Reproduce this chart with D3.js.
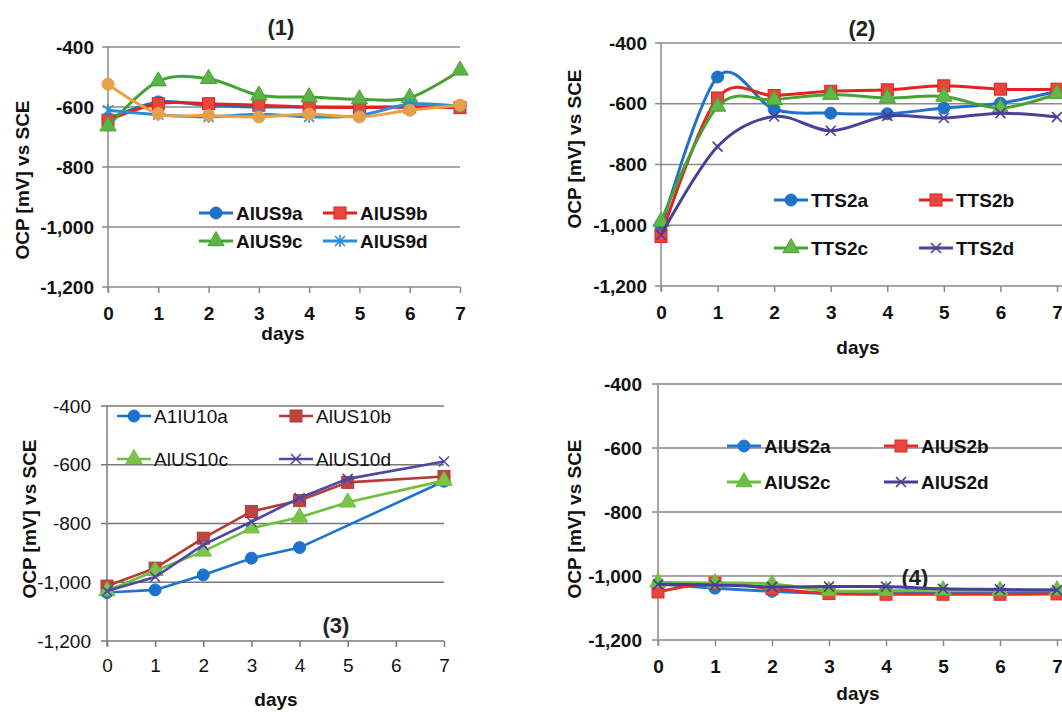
<!DOCTYPE html>
<html>
<head>
<meta charset="utf-8">
<title>OCP vs SCE</title>
<script src="https://d3js.org/d3.v7.min.js"></script>
<style>
  body { margin: 0; background: #fff; }
  text { font-family: "Liberation Sans", Arial, sans-serif; }
</style>
</head>
<body>
<script>
// ---- data ----
var days = [0, 1, 2, 3, 4, 5, 6, 7];
var dayLabels = ["0", "1", "2", "3", "4", "5", "6", "7"];
var yTicks = [-400, -600, -800, -1000, -1200];
var yTickLabels = ["-400", "-600", "-800", "-1,000", "-1,200"];

// panel (1)
var alus9a = [-640, -583, -595, -600, -600, -600, -600, -597];
var alus9b = [-644, -589, -589, -594, -600, -602, -600, -602];
var alus9c = [-664, -514, -506, -561, -567, -574, -569, -478];
var alus9d = [-611, -626, -633, -624, -633, -628, -591, -598];
var alus9e = [-524, -622, -628, -633, -624, -633, -611, -594]; // orange, no legend entry

// panel (2)
var tts2a = [-1013, -512, -618, -631, -633, -614, -598, -559];
var tts2b = [-1037, -581, -573, -559, -554, -541, -552, -552];
var tts2c = [-988, -609, -587, -570, -581, -576, -614, -567];
var tts2d = [-1032, -741, -642, -689, -640, -647, -631, -644];

// panel (3)
var a1iu10a = [-1035, -1026, -975, -918, -882, null, null, -656];
var alus10b = [-1013, -952, -850, -759, -722, -660, null, -640];
var alus10c = [-1030, -961, -895, -816, -779, -728, null, -654];
var alus10d = [-1030, -982, -873, -794, -713, -648, null, -589];

// panel (4)
var alus2a = [-1025, -1038, -1048, -1055, -1055, -1053, -1052, -1052];
var alus2b = [-1050, -1022, -1040, -1055, -1057, -1057, -1057, -1056];
var alus2c = [-1020, -1022, -1025, -1046, -1046, -1044, -1045, -1044];
var alus2d = [-1026, -1028, -1034, -1033, -1033, -1040, -1042, -1044];

var svg = d3.select("body").append("svg").attr("width", 1062).attr("height", 712);

// marker shapes
function marker(sel, shape, color, fill, size) {
    var s = size || 6;
    if (shape === "circle") {
        sel.append("circle").attr("r", s).attr("fill", fill).attr("stroke", color).attr("stroke-width", 1);
    } else if (shape === "square") {
        sel.append("rect").attr("x", -s).attr("y", -s).attr("width", 2 * s).attr("height", 2 * s)
            .attr("fill", fill).attr("stroke", color).attr("stroke-width", 1);
    } else if (shape === "triangle") {
        sel.append("path").attr("d", d3.symbol().type(d3.symbolTriangle).size(s * s * 3.2)())
            .attr("fill", fill).attr("stroke", color).attr("stroke-width", 1);
    } else if (shape === "x") {
        sel.append("path").attr("d", "M-5,-5L5,5M-5,5L5,-5").attr("stroke", color).attr("stroke-width", 1.6).attr("fill", "none");
    } else if (shape === "star") {
        sel.append("path").attr("d", "M-5,-5L5,5M-5,5L5,-5M0,-6L0,6").attr("stroke", color).attr("stroke-width", 1.6).attr("fill", "none");
    }
}

function drawPanel(p) {
    var x = d3.scaleLinear().domain([0, 7]).range([p.left, p.right]);
    var y = d3.scaleLinear().domain([-1200, -400]).range([p.bottom, p.top]);
    var g = svg.append("g");

    // horizontal grid
    g.selectAll("line.grid").data(yTicks).enter().append("line")
        .attr("x1", p.left - 6).attr("x2", p.gridRight)
        .attr("y1", function(d) { return y(d); }).attr("y2", function(d) { return y(d); })
        .attr("stroke", p.axisColor).attr("stroke-width", 1.5);

    // left axis line
    g.append("line").attr("x1", p.left).attr("x2", p.left).attr("y1", p.top).attr("y2", p.bottom + 5)
        .attr("stroke", p.axisColor).attr("stroke-width", 1.5);

    // y tick labels
    var ya = d3.axisLeft(y).tickValues(yTicks).tickSize(0).tickPadding(p.left - p.yLabelEnd)
        .tickFormat(function(d, i) { return yTickLabels[i]; });
    var yg = g.append("g").attr("transform", "translate(" + p.left + ",0)").call(ya);
    yg.select(".domain").remove();
    yg.selectAll("text").attr("font-size", 19).attr("font-weight", p.tickWeight).attr("fill", "#111")
        .attr("font-family", "Liberation Sans, Arial, sans-serif");

    // x axis
    var xa = d3.axisBottom(x).tickValues(days).tickSize(6).tickSizeOuter(0).tickPadding(p.xPad)
        .tickFormat(function(d, i) { return dayLabels[i]; });
    var xg = g.append("g").attr("transform", "translate(0," + p.bottom + ")").call(xa);
    xg.select(".domain").remove();
    xg.selectAll(".tick line").attr("stroke", p.axisColor).attr("stroke-width", 1.5);
    xg.selectAll("text").attr("font-size", 19).attr("font-weight", p.tickWeight).attr("fill", "#111")
        .attr("font-family", "Liberation Sans, Arial, sans-serif");

    // axis titles
    g.append("text").attr("x", p.daysX).attr("y", p.daysY).attr("text-anchor", "middle")
        .attr("font-size", 19).attr("font-weight", "bold").attr("fill", "#111").text("days");
    g.append("text").attr("transform", "translate(" + p.ylabX + "," + p.ylabY + ") rotate(-90)")
        .attr("text-anchor", "middle").attr("dominant-baseline", "central")
        .attr("font-size", 19).attr("font-weight", "bold").attr("fill", "#111").text("OCP [mV] vs SCE");

    // panel tag
    g.append("text").attr("x", p.tagX).attr("y", p.tagY).attr("text-anchor", "middle")
        .attr("dominant-baseline", "central").attr("font-size", 22).attr("font-weight", "bold")
        .attr("fill", "#222").text(p.tag);

    // series
    var line = d3.line()
        .x(function(d) { return x(d.day); })
        .y(function(d) { return y(d.v); })
        .curve(p.curve);

    p.series.forEach(function(s) {
        var pts = days.map(function(d, i) { return { day: d, v: s.values[i] }; })
            .filter(function(d) { return d.v !== null; });
        g.append("path").datum(pts).attr("d", line).attr("fill", "none")
            .attr("stroke", s.color).attr("stroke-width", p.lineWidth);
        g.selectAll(null).data(pts).enter().append("g")
            .attr("transform", function(d) { return "translate(" + x(d.day) + "," + y(d.v) + ")"; })
            .each(function() { marker(d3.select(this), s.shape, s.color, s.fill); });
    });

    // legend
    p.series.forEach(function(s) {
        if (!s.legend) return;
        var L = s.legend;
        var lg = g.append("g").attr("transform", "translate(" + L[0] + "," + L[1] + ")");
        lg.append("line").attr("x1", -17).attr("x2", 17).attr("y1", 0).attr("y2", 0)
            .attr("stroke", s.color).attr("stroke-width", p.lineWidth);
        marker(lg, s.shape, s.color, s.fill);
        lg.append("text").attr("x", 20).attr("y", 0).attr("dominant-baseline", "central")
            .attr("font-size", 19).attr("font-weight", p.legendWeight).attr("fill", "#111").text(s.name);
    });
}

var smooth = d3.curveCardinal.tension(0);

drawPanel({
    left: 108, right: 460, top: 47, bottom: 287, gridRight: 460, yLabelEnd: 94,
    axisColor: "#8a8a8a", tickWeight: "bold", legendWeight: "bold", xPad: 14,
    daysX: 283, daysY: 340, ylabX: 22, ylabY: 180, tag: "(1)", tagX: 281, tagY: 27,
    curve: smooth, lineWidth: 3,
    series: [
        { name: "AlUS9a", values: alus9a, color: "#1f6fc5", fill: "#1f6fc5", shape: "circle", legend: [216, 213] },
        { name: "AlUS9b", values: alus9b, color: "#e2231f", fill: "#e8453c", shape: "square", legend: [340, 213] },
        { name: "AlUS9c", values: alus9c, color: "#45a332", fill: "#5db446", shape: "triangle", legend: [216, 241] },
        { name: "AlUS9d", values: alus9d, color: "#2a8ed8", fill: "none", shape: "star", legend: [340, 241] },
        { name: "", values: alus9e, color: "#e9a143", fill: "#e3a14c", shape: "circle", legend: null }
    ]
});

drawPanel({
    left: 661, right: 1057, top: 43, bottom: 286, gridRight: 1062, yLabelEnd: 647,
    axisColor: "#8a8a8a", tickWeight: "bold", legendWeight: "bold", xPad: 14,
    daysX: 858, daysY: 354, ylabX: 574, ylabY: 149, tag: "(2)", tagX: 862, tagY: 28,
    curve: smooth, lineWidth: 3,
    series: [
        { name: "TTS2a", values: tts2a, color: "#1f72c8", fill: "#1f72c8", shape: "circle", legend: [791, 200] },
        { name: "TTS2b", values: tts2b, color: "#e2231f", fill: "#e8453c", shape: "square", legend: [936, 200] },
        { name: "TTS2c", values: tts2c, color: "#45a332", fill: "#62b747", shape: "triangle", legend: [791, 248] },
        { name: "TTS2d", values: tts2d, color: "#4b3f99", fill: "none", shape: "x", legend: [936, 248] }
    ]
});

drawPanel({
    left: 107, right: 444, top: 406, bottom: 641, gridRight: 444, yLabelEnd: 91,
    axisColor: "#777", tickWeight: "normal", legendWeight: "normal", xPad: 12,
    daysX: 276, daysY: 706, ylabX: 29, ylabY: 519, tag: "(3)", tagX: 336, tagY: 625,
    curve: d3.curveLinear, lineWidth: 2.6,
    series: [
        { name: "A1IU10a", values: a1iu10a, color: "#1b72cf", fill: "#1b72cf", shape: "circle", legend: [134, 416] },
        { name: "AlUS10b", values: alus10b, color: "#b43b37", fill: "#c0443f", shape: "square", legend: [296, 416] },
        { name: "AlUS10c", values: alus10c, color: "#6cc03a", fill: "#78c54a", shape: "triangle", legend: [134, 459] },
        { name: "AlUS10d", values: alus10d, color: "#4d48a6", fill: "none", shape: "x", legend: [296, 459] }
    ]
});

drawPanel({
    left: 658, right: 1057, top: 384, bottom: 640, gridRight: 1062, yLabelEnd: 642,
    axisColor: "#8a8a8a", tickWeight: "bold", legendWeight: "bold", xPad: 14,
    daysX: 858, daysY: 700, ylabX: 574, ylabY: 519, tag: "(4)", tagX: 915, tagY: 577,
    curve: smooth, lineWidth: 3,
    series: [
        { name: "AlUS2a", values: alus2a, color: "#1f78d1", fill: "#1f78d1", shape: "circle", legend: [744, 446] },
        { name: "AlUS2b", values: alus2b, color: "#e52d27", fill: "#e8453c", shape: "square", legend: [901, 446] },
        { name: "AlUS2c", values: alus2c, color: "#6cbf3f", fill: "#6cbf3f", shape: "triangle", legend: [744, 482] },
        { name: "AlUS2d", values: alus2d, color: "#4a3d9c", fill: "none", shape: "x", legend: [901, 482] }
    ]
});
</script>
</body>
</html>
